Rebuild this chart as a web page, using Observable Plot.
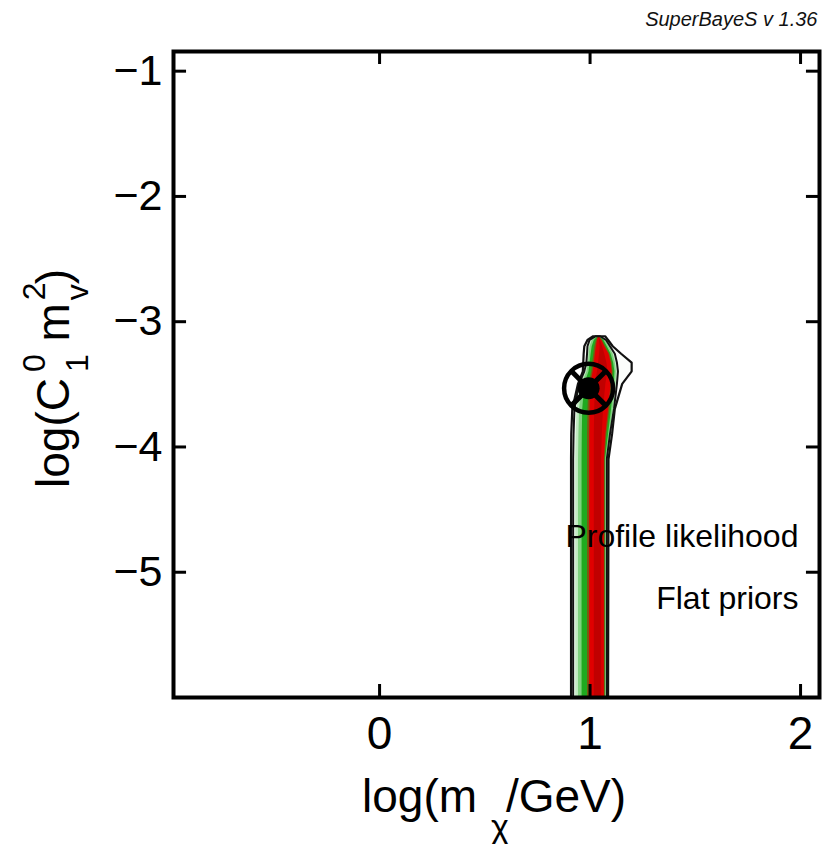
<!DOCTYPE html>
<html><head><meta charset="utf-8">
<script src="https://cdn.jsdelivr.net/npm/d3@7"></script>
<script src="https://cdn.jsdelivr.net/npm/@observablehq/plot@0.6"></script>
<style>body{margin:0;background:#fff}</style>
</head><body><div id="chart"></div><script>
// ---- data ----
const xTicks = [0, 1, 2];
const xTickLabels = ["0", "1", "2"];
const yTicks = [-1, -2, -3, -4, -5];
const yTickLabels = ["\u22121", "\u22122", "\u22123", "\u22124", "\u22125"];
const xDomain = [-0.979, 2.09];
const yDomain = [-6.0, -0.843];

// y levels along the profile-likelihood band
const bandY   = [-6.0, -4.1, -3.9, -3.7, -3.5, -3.4, -3.33, -3.26, -3.2, -3.15, -3.12];
// outer (2 sigma) contour
const outerLo = [0.912, 0.912, 0.913, 0.918, 0.945, 0.968, 0.970, 0.972, 0.975, 0.990, 1.017];
const outerHi = [1.088, 1.090, 1.107, 1.120, 1.155, 1.200, 1.200, 1.150, 1.110, 1.088, 1.074];
// inner (1 sigma) contour
const innerLo = [0.922, 0.922, 0.924, 0.928, 0.950, 0.975, 0.985, 0.988, 0.990, 1.000, 1.030];
const innerHi = [1.082, 1.082, 1.097, 1.116, 1.130, 1.135, 1.130, 1.120, 1.097, 1.078, 1.050];
// colour layers (pale green -> green -> red)
const plLo  = [0.932, 0.932, 0.934, 0.938, 0.956, 0.980, 0.989, 0.992, 0.995, 1.005, 1.032];
const plHi  = [1.079, 1.079, 1.095, 1.113, 1.126, 1.130, 1.125, 1.115, 1.093, 1.075, 1.048];
const lgLo  = [0.945, 0.945, 0.947, 0.950, 0.962, 0.985, 0.993, 0.996, 1.000, 1.010, 1.035];
const lgHi  = [1.076, 1.076, 1.093, 1.110, 1.122, 1.125, 1.120, 1.110, 1.090, 1.072, 1.047];
const gLo   = [0.962, 0.962, 0.963, 0.965, 0.975, 0.995, 1.000, 1.005, 1.010, 1.020, 1.037];
const gHi   = [1.074, 1.074, 1.088, 1.102, 1.115, 1.118, 1.112, 1.100, 1.082, 1.066, 1.045];
const brLo  = [0.988, 0.988, 0.988, 0.990, 0.995, 1.008, 1.012, 1.018, 1.022, 1.030, 1.039];
const brHi  = [1.072, 1.072, 1.080, 1.094, 1.106, 1.110, 1.105, 1.094, 1.075, 1.060, 1.044];
const rLo   = [0.998, 0.998, 0.998, 1.000, 1.002, 1.015, 1.020, 1.025, 1.030, 1.035, 1.040];
const rHi   = [1.068, 1.068, 1.075, 1.088, 1.100, 1.105, 1.100, 1.090, 1.070, 1.056, 1.043];
const drLo  = [1.020, 1.020, 1.020, 1.022, 1.025, 1.035, 1.040, 1.045, 1.048, 1.045, 1.041];
const drHi  = [1.055, 1.055, 1.058, 1.064, 1.075, 1.085, 1.080, 1.070, 1.060, 1.050, 1.042];

const bestFit = [{x: 0.993, y: -3.532}];
const notes = [
  {x: 1.99, y: -4.80, text: "Profile likelihood"},
  {x: 1.99, y: -5.29, text: "Flat priors"}
];
const version = "SuperBayeS v 1.36";

const layer = (lo, hi) => bandY.map((y, i) => ({y, lo: lo[i], hi: hi[i]}));

const tickLenY = 0.104, tickLenX = 0.062;
const font = "'Liberation Sans', Arial, Helvetica, sans-serif";

const svg = Plot.plot({
  width: 823, height: 844,
  marginLeft: 173, marginRight: 4, marginTop: 51, marginBottom: 147,
  x: {domain: xDomain},
  y: {domain: yDomain},
  style: {fontFamily: font, background: "white", color: "black"},
  marks: [
    Plot.areaX(layer(outerLo, outerHi), {y: "y", x1: "lo", x2: "hi", fill: "#fbfefb", stroke: "#111", strokeWidth: 2.2}),
    Plot.areaX(layer(innerLo, innerHi), {y: "y", x1: "lo", x2: "hi", fill: "#eefaee"}),
    Plot.areaX(layer(plLo, plHi), {y: "y", x1: "lo", x2: "hi", fill: "#c2eac2"}),
    Plot.areaX(layer(lgLo, lgHi), {y: "y", x1: "lo", x2: "hi", fill: "#7fd27f"}),
    Plot.areaX(layer(gLo, gHi), {y: "y", x1: "lo", x2: "hi", fill: "#1faa1f"}),
    Plot.areaX(layer(brLo, brHi), {y: "y", x1: "lo", x2: "hi", fill: "#7a5a10"}),
    Plot.areaX(layer(rLo, rHi), {y: "y", x1: "lo", x2: "hi", fill: "#e00000"}),
    Plot.areaX(layer(drLo, drHi), {y: "y", x1: "lo", x2: "hi", fill: "#c00000"}),
    Plot.areaX(layer(innerLo, innerHi), {y: "y", x1: "lo", x2: "hi", fill: "none", stroke: "#111", strokeWidth: 2}),
    // best fit marker
    Plot.dot(bestFit, {x: "x", y: "y", r: 24.5, stroke: "black", strokeWidth: 4.5, fill: "none"}),
    Plot.dot(bestFit, {x: "x", y: "y", r: 16, symbol: "times", stroke: "black", strokeWidth: 5}),
    Plot.dot(bestFit, {x: "x", y: "y", r: 11, fill: "black"}),
    // inward ticks on all four sides
    Plot.ruleX(xTicks, {x: d => d, y1: yDomain[0], y2: yDomain[0] + tickLenY, stroke: "black", strokeWidth: 3}),
    Plot.ruleX(xTicks, {x: d => d, y1: yDomain[1], y2: yDomain[1] - tickLenY, stroke: "black", strokeWidth: 3}),
    Plot.ruleY(yTicks, {y: d => d, x1: xDomain[0], x2: xDomain[0] + tickLenX, stroke: "black", strokeWidth: 3}),
    Plot.ruleY(yTicks, {y: d => d, x1: xDomain[1], x2: xDomain[1] - tickLenX, stroke: "black", strokeWidth: 3}),
    Plot.frame({stroke: "black", strokeWidth: 4}),
    Plot.axisX(xTicks, {anchor: "bottom", tickSize: 0, tickPadding: 19, fontSize: 46, label: null,
      tickFormat: d => xTickLabels[xTicks.indexOf(d)]}),
    Plot.axisY(yTicks, {anchor: "left", tickSize: 0, tickPadding: 11, fontSize: 43, label: null,
      tickFormat: d => yTickLabels[yTicks.indexOf(d)]}),
    Plot.text(notes, {x: "x", y: "y", text: "text", textAnchor: "end", lineAnchor: "bottom", fontSize: 32, fill: "black"}),
    Plot.text([version], {frameAnchor: "top-right", text: d => d, dy: -26, dx: -2, lineAnchor: "bottom",
      textAnchor: "end", fontSize: 20, fontStyle: "italic", fill: "#111"})
  ]
});
document.getElementById("chart").appendChild(svg);

// axis titles with sub/superscripts
const s = d3.select(svg);
const xt = s.append("text").attr("x", 362).attr("y", 812).attr("text-anchor", "start")
  .attr("font-family", font).attr("font-size", 46).attr("fill", "black");
xt.append("tspan").text("log(m");
xt.append("tspan").attr("font-size", 34).attr("dx", 14).attr("dy", 26).text("\u03c7");
xt.append("tspan").attr("dy", -26).attr("dx", -3).text("/GeV)");

const yt = s.append("text").attr("transform", "translate(69,488) rotate(-90)").attr("text-anchor", "start")
  .attr("font-family", font).attr("font-size", 46).attr("fill", "black");
yt.append("tspan").text("log(C");
yt.append("tspan").attr("font-size", 32).attr("dx", 6).attr("dy", -24).text("0");
yt.append("tspan").attr("font-size", 32).attr("dx", -17.8).attr("dy", 43).text("1");
yt.append("tspan").attr("dy", -19).text(" m");
yt.append("tspan").attr("font-size", 32).attr("dx", 3).attr("dy", -24).text("2");
yt.append("tspan").attr("font-size", 32).attr("dx", -17.8).attr("dy", 43).text("v");
yt.append("tspan").attr("dy", -19).text(")");
</script></body></html>
